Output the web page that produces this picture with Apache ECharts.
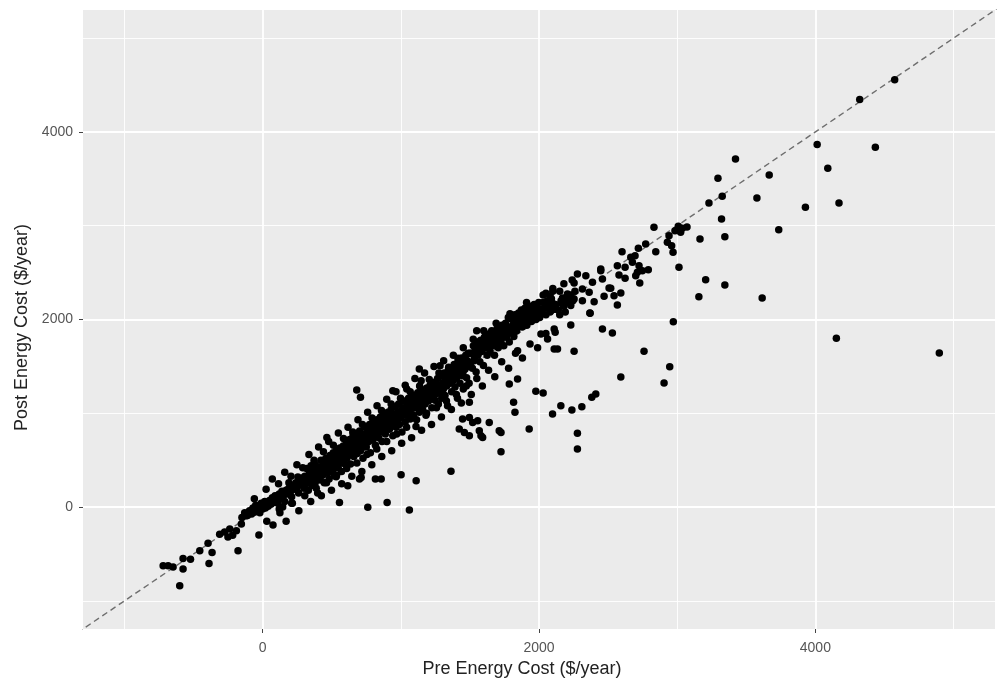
<!DOCTYPE html>
<html>
<head>
<meta charset="utf-8">
<title>Pre vs Post Energy Cost</title>
<script src="https://cdn.jsdelivr.net/npm/echarts@6/dist/echarts.min.js"></script>
<style>
  html, body { margin: 0; padding: 0; background: #ffffff; }
  #chart { width: 1000px; height: 690px; }
</style>
</head>
<body>
<div id="chart"></div>
<script>
// Axis ticks and labels
const majorTicks = [0, 2000, 4000];
const minorTicks = [-1000, 1000, 3000, 5000];
const axisRange = [-1300, 5300];
// y = x reference line endpoints
const refLine = [-1400, 5400];

// [pre, post] energy cost in $/year
const negativeTail = [
  [-720,-626],[-684,-626],[-648,-640],[-600,-839],[-576,-661],[-576,-547],[-522,-555],
  [-455,-466],[-395,-387],[-366,-483],[-388,-601],[-178,-466],[-311,-290],[-275,-267],
  [-238,-235],[-251,-320],[-217,-300],[-190,-253],[-154,-181],[-118,-93],[-70,-21],[-27,-299]
];

const lowBand = [
  [-150,-110],[-130,-60],[-110,-90],[-95,-40],[-80,-75],[-70,-10],[-60,-55],[-50,20],
  [-40,-30],[-30,10],[-20,-60],[-10,40],[0,-20],[5,30],[15,60],[20,-10],[30,40],[40,10],
  [50,70],[60,30],[70,100],[80,50],[90,120],[100,80],[110,40],[120,140],[130,100],[140,170],
  [150,120],[160,60],[170,180],[180,140],[190,200],[200,160],[210,110],[220,230],[230,190],
  [240,260],[250,210],[260,150],[270,280],[280,240],[290,310],[300,260],[300,200],[145,0],
  [210,40],[255,320],[190,260],[120,-20]
];

const coreBand = [
  [305,330],[312,250],[318,410],[325,290],[331,180],[338,360],[344,300],[350,440],[356,230],
  [362,380],[368,320],[374,470],[380,260],[386,400],[392,340],[398,150],[404,430],[410,370],
  [416,290],[422,500],[428,410],[434,340],[440,460],[446,260],[452,390],
  [458,520],[463,440],[469,360],[475,480],[481,300],[487,550],[493,420],[499,500],[505,380],
  [511,580],[517,460],[523,520],[529,340],[535,600],[541,480],[547,420],[553,560],[559,630],
  [565,500],[571,380],[577,580],[583,650],[589,520],[595,460],[601,610],
  [606,700],[612,540],[618,640],[624,580],[630,720],[636,460],[642,660],[648,600],[654,760],
  [660,540],[666,690],[672,630],[678,780],[684,570],[690,720],[696,660],[702,810],[708,600],
  [714,750],[720,690],[726,520],[732,780],[738,720],[744,850],[750,640],
  [756,760],[762,820],[768,700],[774,880],[780,580],[786,790],[792,850],[798,720],[804,900],
  [810,780],[816,660],[822,860],[828,930],[834,800],[840,740],[846,890],[852,960],[858,820],
  [864,700],[870,920],[876,860],[882,990],[888,780],[894,940],[900,870],
  [906,1010],[912,900],[918,830],[924,960],[930,1040],[936,880],[942,760],[948,990],[954,920],
  [960,1070],[966,850],[972,1000],[978,940],[984,1100],[990,880],[996,1020],[1002,960],
  [1008,800],[1014,1060],[1020,990],[1026,1130],[1032,910],[1038,1040],[1044,980],[1050,1090],
  [1056,1160],[1062,1020],[1068,940],[1074,1100],[1080,1050],[1086,1190],[1092,980],
  [1098,1120],[1104,1060],[1110,860],[1116,1150],[1122,1220],[1128,1080],[1134,1010],
  [1140,1180],[1146,1120],[1152,1250],[1158,1040],[1164,1160],[1170,1210],[1176,1100],
  [1182,980],[1188,1270],[1194,1190],[1200,1130],
  [1206,1230],[1212,1300],[1218,1160],[1224,1060],[1230,1260],[1236,1200],[1242,1330],
  [1248,1140],[1254,1270],[1260,1210],[1266,1370],[1272,1100],[1278,1290],[1284,1230],
  [1290,1400],[1296,1160],[1302,1320],[1308,1260],[1314,1430],[1320,1190],[1326,1350],
  [1332,1290],[1338,1080],[1344,1460],[1350,1380],
  [1356,1320],[1362,1480],[1368,1230],[1374,1400],[1380,1350],[1386,1520],[1392,1280],
  [1398,1430],[1404,1380],[1410,1160],[1416,1550],[1422,1460],[1428,1320],[1434,1500],
  [1440,1590],[1446,1400],[1452,1260],[1458,1530],[1464,1470],[1470,1620],[1476,1380],
  [1482,1560],[1488,1500],[1494,1320],[1500,1640]
];

const coreFill = [
  [340,320],[372,350],[395,420],[420,380],[448,450],[470,430],[497,470],[520,560],[545,530],
  [568,540],[590,590],[615,600],[640,620],[662,650],[688,680],[710,700],[735,690],[760,730],
  [785,740],[810,830],[835,850],[862,880],[885,900],[910,950],[935,930],[958,980],[985,1010],
  [1010,1000],[1035,1060],[1060,1080],[1085,1110],[1110,1130],[1135,1120],[1160,1180],
  [1185,1200],[1210,1220],[1235,1250],[1260,1280],[1285,1300],[1310,1330],[1335,1360],
  [1360,1400],[1385,1420],[1410,1450],[1435,1470],[1460,1500],[1485,1540],
  [355,270],[383,330],[410,300],[437,400],[466,390],[490,380],[515,420],[538,450],[562,470],
  [586,560],[610,520],[634,560],[657,600],[682,620],[705,650],[729,640],[752,700],[777,760],
  [801,760],[826,780],[850,800],[874,820],[899,850],[922,880],[946,900],[970,940],[994,950],
  [1018,1050],[1042,1010],[1066,1070],[1090,1060],[1114,1100],[1138,1150],[1162,1120],
  [1186,1140],[1210,1180],[1234,1290],[1258,1240],[1282,1260],[1306,1290],[1330,1400],
  [1354,1350],[1378,1380],[1402,1490],[1426,1420],[1450,1440],[1474,1560]
];

// Looser points along the upper and lower edges of the band
const edgeAbove = [
  [-60,90],[25,190],[70,300],[115,250],[160,370],[205,330],[248,450],[290,420],[335,560],
  [372,500],[405,640],[440,590],[478,700],[512,660],[548,790],[585,730],[618,850],[652,800],
  [690,930],[722,880],[760,1010],[792,950],[828,1080],[860,1030],[898,1150],[930,1100],
  [965,1230],[998,1160],[1032,1300],[1068,1230],[1102,1370],[1136,1290],[1172,1430],
  [1206,1360],[1240,1500],[1276,1430],[1310,1560],[1346,1490],[1380,1620],[1416,1560],
  [1452,1700],[1488,1640],[1524,1790],[1560,1720],[1600,1880],[1640,1820],[1690,1960],
  [1730,1900],[1790,2060],[1850,2040],[1910,2180],[1970,2150],[2030,2260],[2100,2300]
];

const edgeBelow = [
  [30,-150],[75,-190],[125,-60],[170,-150],[215,40],[262,-40],[305,120],[348,60],[388,200],
  [425,120],[462,260],[498,180],[535,340],[572,250],[608,410],[645,330],[682,470],[718,380],
  [755,560],[790,450],[826,620],[862,540],[898,700],[934,600],[970,780],[1006,680],
  [1042,850],[1078,740],[1114,930],[1150,820],[1186,1000],[1222,880],[1258,1060],[1294,960],
  [1330,1130],[1366,1040],[1402,1200],[1438,1110],[1474,1290],[1510,1200],[1550,1370],
  [1590,1290],[1635,1460],[1680,1390],[1730,1550],[1780,1480],[1830,1640],[1880,1590],
  [1935,1740],[1990,1700],[2050,1850],[2110,1900]
];

const upperBand = [
  [1505,1540],[1512,1640],[1518,1480],[1525,1720],[1532,1600],[1538,1670],[1545,1440],
  [1552,1760],[1558,1620],[1565,1690],[1572,1550],[1578,1780],[1585,1660],[1592,1720],
  [1598,1510],[1605,1810],[1612,1700],[1618,1760],[1625,1620],[1632,1840],[1638,1740],
  [1645,1660],[1652,1800],[1658,1880],[1665,1720],[1672,1780],[1678,1620],[1685,1850],
  [1692,1760],[1698,1910],[1705,1700],[1712,1820],[1718,1880],[1725,1760],[1732,1940],
  [1738,1840],[1745,1720],[1752,1900],[1758,1960],[1765,1810],[1772,1880],[1778,2020],
  [1785,1760],[1792,1920],[1798,1860],[1805,2000],[1812,1940],[1818,1820],[1825,2050],
  [1832,1960],[1838,1880],[1845,2020],[1852,2070],[1858,1940],[1865,2000],[1872,2100],
  [1878,1920],[1885,2050],[1892,1980],[1898,2120],[1905,2020],[1912,1940],[1918,2080],
  [1925,2010],[1932,2140],[1938,2060],[1945,1980],[1952,2110],[1958,2040],[1965,2160],
  [1972,2080],[1978,2000],[1985,2130],[1992,2070],[1998,2180],[2005,2020],[2012,2110],
  [2020,2060],[2030,2180],[2040,2120],[2050,2050],[2060,2200],[2070,2140],[2080,2080],
  [2090,2220],[2100,2170],[2110,2110],
  [1530,1560],[1560,1640],[1590,1680],[1620,1710],[1650,1740],[1680,1770],[1710,1790],
  [1740,1810],[1770,1850],[1800,1900],[1830,1920],[1860,1960],[1890,2010],[1920,2030],
  [1950,2050],[1980,2080],
  [2120,2160],[2140,2100],[2160,2200],[2180,2140],[2200,2240],[2150,2050],[2190,2080],
  [2210,2180],[2230,2260],[2170,2230],[2245,2200],[2260,2300],[2050,2280],[2100,2330],
  [2180,2380],[2240,2420],[2080,2250],[2150,2300],
  [2086,2094],[2122,2112],[2170,2165],[2206,2272],[2230,2148],[2254,2389],[2254,2219],
  [2278,2485],[2314,2325],[2314,2201],[2339,2467],[2363,2290],[2368,2069],[2387,2397],
  [2399,2190],[2447,2521],[2459,2432],[2471,2247],[2507,2336],[2543,2254]
];

const highEnd = [
  [2601,2723],[2567,2574],[2623,2557],[2579,2475],[2623,2439],[2592,2283],[2567,2155],
  [2519,2333],[2447,2539],[2664,2663],[2676,2610],[2695,2681],[2700,2467],[2712,2503],
  [2719,2759],[2724,2574],[2729,2389],[2748,2521],[2791,2531],[2772,2805],[2832,2983],
  [2845,2723],[2929,2824],[2941,2894],[2960,2787],[2970,2717],[2984,2947],[3008,2994],
  [3025,2930],[3037,2973],[3071,2987],[3165,2859],[3230,3243],[3295,3506],[3321,3072],
  [3326,3314],[3345,2883],[3422,3712],[3577,3296],[3666,3541],[3735,2958],[3928,3197],
  [4013,3865],[4090,3613],[4171,3243],[4321,4345],[4434,3837],[4574,4555]
];

const aboveLine = [
  [465,743],[681,1248],[708,1170],[942,1241],[1043,1259],[1134,1472],[1147,1347],
  [1284,1507],[1414,1586],[1549,1881],[1616,1845],[1941,2130],[1941,2077]
];

const belowLine = [
  [520,334],[532,324],[556,50],[616,228],[701,299],[713,316],[761,-3],[816,299],[858,299],
  [901,50],[1002,345],[1062,-32],[1111,281],[1363,381],
  [1423,832],[1447,939],[1460,796],[1496,956],[1496,761],[1520,903],[1556,921],[1568,814],
  [1580,761],[1592,743],[1640,903],[1712,814],[1725,796],[1725,590],[1496,1117],
  [1785,1312],[1845,1365],[1816,1117],[1826,1010],[1929,832],[1977,1234],[2030,1216],
  [2098,992],[2158,1081],[2238,1035],[2310,1070],[2382,1170],[2411,1205],[2278,786],
  [2278,619],[2592,1387],[1845,1668],[2110,1685],[2134,1685],[2254,1661],[2760,1661],
  [2946,1497],[2905,1323],[2972,1977],[3157,2243],[3206,2425],[3345,2368],[3615,2229],
  [3013,2557],[4152,1800],[4897,1643],
  [2014,1845],[2062,1792],[2117,1863],[2230,1941],[2459,1899],[2531,1856],[2370,2066]
];

const points = [].concat(negativeTail, lowBand, coreBand, coreFill, edgeAbove, edgeBelow,
                         upperBand, highEnd, aboveLine, belowLine);

const FONT = '"Liberation Sans", Arial, sans-serif';

function majorAxis(name, isY) {
  return {
    type: 'value',
    min: axisRange[0],
    max: axisRange[1],
    name: name,
    nameLocation: 'middle',
    nameGap: isY ? 52 : 31,
    nameRotate: isY ? 90 : 0,
    nameTextStyle: isY
      ? { color: '#222', fontSize: 18, fontFamily: FONT, padding: [0, 16, 0, 0] }
      : { color: '#222', fontSize: 18, fontFamily: FONT, padding: [0, 34, 0, 0] },
    axisLine: { show: false, onZero: false },
    axisTick: { show: true, length: 4, lineStyle: { color: '#444', width: 1 },
                customValues: majorTicks },
    axisLabel: { color: '#555', fontSize: 14, fontFamily: FONT, margin: isY ? 10 : 12,
                 customValues: majorTicks, formatter: v => String(v) },
    splitLine: { show: true, lineStyle: { color: '#ffffff', width: 1.8 } }
  };
}

function minorAxis() {
  return {
    type: 'value',
    min: axisRange[0],
    max: axisRange[1],
    axisLine: { show: false, onZero: false },
    axisTick: { show: false, customValues: minorTicks },
    axisLabel: { show: false, customValues: minorTicks },
    splitLine: { show: true, lineStyle: { color: '#ffffff', width: 0.9 } }
  };
}

const chart = echarts.init(document.getElementById('chart'), null, { renderer: 'canvas' });

chart.setOption({
  animation: false,
  backgroundColor: '#ffffff',
  grid: {
    left: 83, right: 5, top: 10, bottom: 61,
    show: true, backgroundColor: '#EBEBEB', borderWidth: 0
  },
  xAxis: [majorAxis('Pre Energy Cost ($/year)', false), minorAxis()],
  yAxis: [majorAxis('Post Energy Cost ($/year)', true), minorAxis()],
  series: [
    {
      type: 'scatter',
      xAxisIndex: 0, yAxisIndex: 0,
      data: points,
      symbol: 'circle',
      symbolSize: 7.5,
      large: false,
      itemStyle: { color: '#000000', opacity: 1 },
      z: 3
    },
    {
      type: 'line',
      xAxisIndex: 0, yAxisIndex: 0,
      data: refLine.map(v => [v, v]),
      showSymbol: false,
      symbol: 'none',
      clip: true,
      lineStyle: { color: '#6e6e6e', width: 1.4, type: [6, 4] },
      z: 2
    }
  ]
});
</script>
</body>
</html>
